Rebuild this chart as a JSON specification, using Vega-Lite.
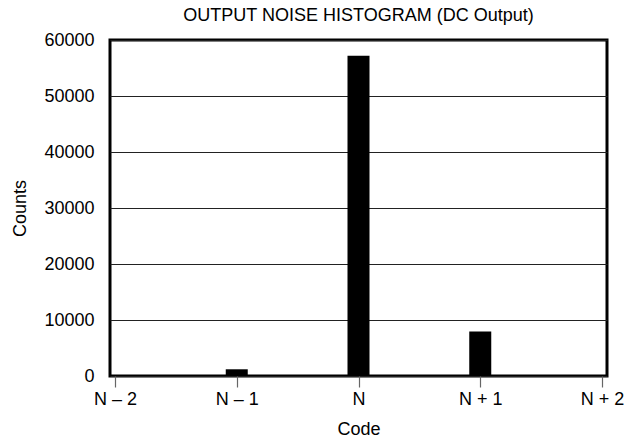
{
  "$schema": "https://vega.github.io/schema/vega-lite/v6.json",
  "width": 497,
  "height": 336,
  "autosize": {"type": "none"},
  "padding": {"left": 110, "top": 40, "right": 22, "bottom": 64},
  "background": "white",
  "title": {"text": "OUTPUT NOISE HISTOGRAM (DC Output)", "font": "Liberation Sans", "fontSize": 18, "fontWeight": "normal", "color": "black", "anchor": "middle", "offset": 6},
  "config": {
    "view": {"stroke": "black", "strokeWidth": 3},
    "font": "Liberation Sans"
  },
  "data": {"values": [
    {"code": -1, "counts": 1200},
    {"code": 0, "counts": 57200},
    {"code": 1, "counts": 7950}
  ]},
  "mark": {"type": "bar", "color": "black", "size": 22},
  "encoding": {
    "x": {"field": "code", "type": "quantitative", "title": "Code",
      "scale": {"domain": [-2, 2], "nice": false, "zero": false},
      "axis": {"values": [-2, -1, 0, 1, 2], "grid": false, "domain": false, "ticks": true, "tickColor": "#666", "tickSize": 11, "tickWidth": 1.2,
        "labelExpr": "datum.value == 0 ? 'N' : datum.value < 0 ? 'N – ' + (-datum.value) : 'N + ' + datum.value",
        "labelFontSize": 18, "labelColor": "black", "labelPadding": 3, "labelFlush": false,
        "titleFontSize": 18, "titleFontWeight": "normal", "titleColor": "black", "titlePadding": 12}},
    "y": {"field": "counts", "type": "quantitative", "title": "Counts",
      "scale": {"domain": [0, 60000], "nice": false},
      "axis": {"values": [0, 10000, 20000, 30000, 40000, 50000, 60000], "format": "d", "grid": true, "gridColor": "#222", "gridWidth": 1, "gridOpacity": 1, "domain": false, "ticks": false,
        "labelFontSize": 18, "labelColor": "black", "labelPadding": 16,
        "titleFontSize": 18, "titleFontWeight": "normal", "titleColor": "black", "titlePadding": 14}}
  }
}
